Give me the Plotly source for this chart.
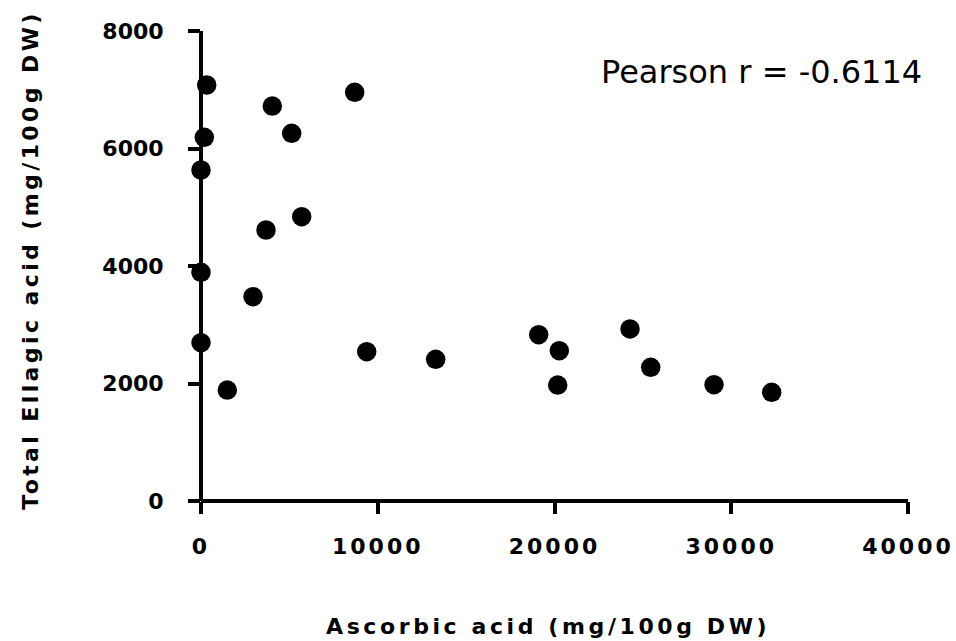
import plotly.graph_objects as go

# Data
ascorbic = [322, 187, 0, 4034, 5131, 8696, 5697, 3678, 0, 2942, 0, 1488,
            9375, 13278, 19106, 20272, 20181, 24272, 25443, 29024, 32289]
ellagic = [7081, 6191, 5634, 6723, 6259, 6957, 4839, 4613, 3893, 3477, 2694, 1889,
           2541, 2412, 2831, 2558, 1974, 2928, 2276, 1980, 1850]

x_ticks = [0, 10000, 20000, 30000, 40000]
y_ticks = [0, 2000, 4000, 6000, 8000]
x_title = "Ascorbic acid (mg/100g DW)"
y_title = "Total Ellagic acid (mg/100g DW)"
pearson_label = "Pearson r = -0.6114"

BOLD = "DejaVu Sans"

def spaced(t, px):
    return f'<span style="letter-spacing:{px}px">{t}</span>'

fig = go.Figure()
fig.add_trace(go.Scatter(
    x=ascorbic, y=ellagic, mode="markers",
    marker=dict(color="black", size=19.5, line=dict(width=0)),
    cliponaxis=False, showlegend=False,
))

axis_common = dict(
    showgrid=False, showline=False, automargin=False,
    zeroline=True, zerolinecolor="black", zerolinewidth=4,
    ticks="outside", ticklen=12, tickwidth=4, tickcolor="black",
    tickfont=dict(family=BOLD, size=22, color="black", weight="bold"),
)

fig.update_layout(
    template="none",
    width=956, height=641,
    margin=dict(l=201, r=48, t=31, b=140, autoexpand=False),
    plot_bgcolor="white", paper_bgcolor="white",
    font=dict(family=BOLD, color="black"),
    xaxis=dict(
        range=[0, 40000],
        tickvals=x_ticks, ticktext=[spaced(f"{v}", 3) for v in x_ticks],
        ticklabelstandoff=14,
        **axis_common,
    ),
    yaxis=dict(
        range=[0, 8000],
        tickvals=y_ticks, ticktext=[f"{v}" for v in y_ticks],
        ticklabelstandoff=20,
        **axis_common,
    ),
    annotations=[
        dict(text=spaced(x_title, 3.6), xref="paper", yref="paper",
             x=0.491, y=-0.267, xanchor="center", yanchor="middle", showarrow=False,
             font=dict(family=BOLD, size=22, color="black", weight="bold")),
        dict(text=spaced(y_title, 3.4), xref="paper", yref="paper",
             x=-0.2405, y=0.513, xanchor="center", yanchor="middle", showarrow=False,
             textangle=-90,
             font=dict(family=BOLD, size=22, color="black", weight="bold")),
        dict(text=pearson_label, xref="paper", yref="paper",
             x=1.023, y=0.913, xanchor="right", yanchor="middle", showarrow=False,
             font=dict(family="DejaVu Sans", size=32, color="black")),
    ],
)

fig.write_html("out.html")
